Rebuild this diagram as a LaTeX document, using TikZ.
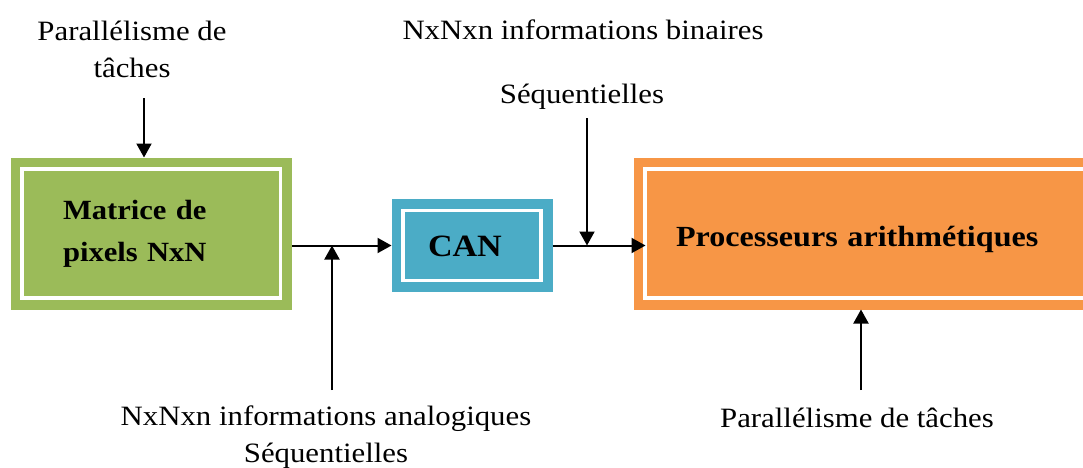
\documentclass[tikz,border=0pt]{standalone}
\usepackage{fontspec}
\setmainfont{Liberation Serif}[FakeStretch=1.1]
\usetikzlibrary{arrows.meta}

\definecolor{matgreen}{HTML}{9BBB59}
\definecolor{canblue}{HTML}{4BACC6}
\definecolor{procorange}{HTML}{F79646}

\begin{document}
\begin{tikzpicture}[x=0.5pt, y=-0.5pt, >={Triangle[length=7pt, width=7.5pt]}, line width=1pt, font=\fontsize{14}{18.5}\selectfont]
    \tikzstyle{txt} = [align=center, inner sep=0pt]
    \tikzstyle{unit} = [rectangle, draw=white, line width=1.75pt, outer sep=5.75pt, align=left, minimum height=64.5pt]
    \tikzstyle{pixbox} = [unit, fill=matgreen, preaction={draw=matgreen, line width=11.5pt}]
    \tikzstyle{canbox} = [unit, fill=canblue, preaction={draw=canblue, line width=11.5pt}]
    \tikzstyle{procbox} = [unit, fill=procorange, preaction={draw=procorange, line width=11.5pt}]

    \useasboundingbox (0,0) rectangle (1083,467);

    \node [pixbox, text width=88.25pt, inner xsep=20.5pt, font=\bfseries\fontsize{13.9}{21}\selectfont] (pixels) at (151.25,233.5) {Matrice de\\pixels NxN};
    \node [canbox, minimum height=35pt, text width=44pt, inner xsep=12.5pt, text height=11pt, text depth=0pt, font=\bfseries\fontsize{15.5}{18}\selectfont] (can) at (472,245.5) {CAN};
    \node [procbox, text width=196.5pt, inner xsep=15.5pt, text height=12.5pt, text depth=0pt, font=\bfseries\fontsize{14.6}{18}\selectfont] (proc) at (872.5,233.5) {Processeurs arithmétiques};

    \node [txt] (parA) at (132,49) {Parallélisme de\\tâches};
    \node [txt] (binaires) at (583,30) {NxNxn informations binaires};
    \node [txt] (seqA) at (582,97) {Séquentielles};
    \node [txt] (analog) at (326,437) {NxNxn informations analogiques\\Séquentielles};
    \node [txt] (parB) at (857,418) {Parallélisme de tâches};

    \coordinate (inA) at (144,98);
    \coordinate (inB) at (332,390);
    \coordinate (inC) at (587,118);
    \coordinate (inD) at (861,390);

    \draw[->] (inA) -- (inA |- pixels.north);
    \draw[->] (pixels.east |- can.west) -- (can.west);
    \draw[->] (inB) -- (inB |- can.west);
    \draw[->, shorten >=-6pt] (can.east) -- (can.east -| proc.west);
    \draw[->] (inC) -- (inC |- can.east);
    \draw[->] (inD) -- (inD |- proc.south);
\end{tikzpicture}
\end{document}
